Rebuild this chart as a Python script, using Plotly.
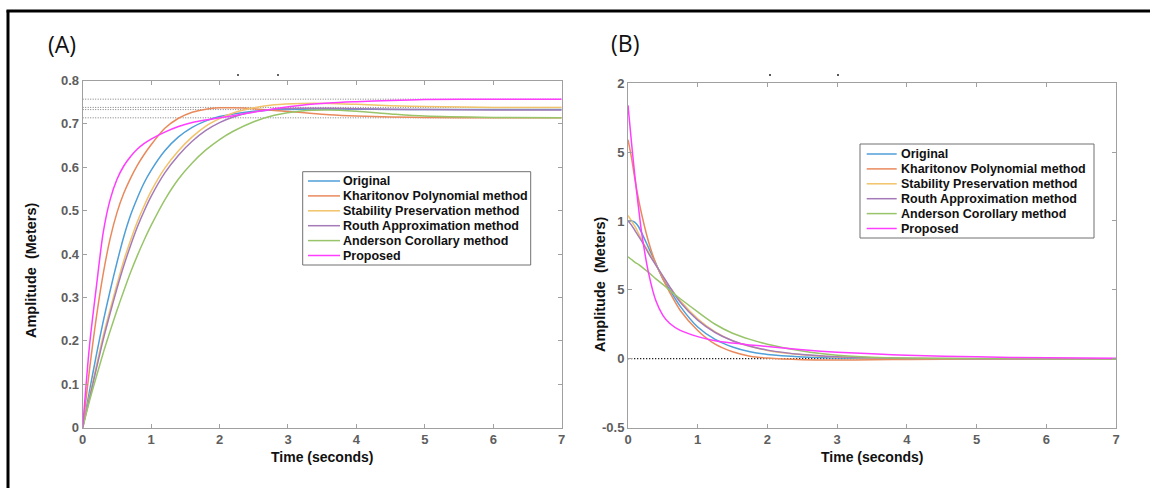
import plotly.graph_objects as go

# ---------------- data ----------------
names = ["Original", "Kharitonov Polynomial method", "Stability Preservation method",
         "Routh Approximation method", "Anderson Corollary method", "Proposed"]
colors = ["#4f9fd8", "#e98a5c", "#f2c36a", "#a47bb8", "#98c46a", "#ff3dff"]

# Panel A: step response
t_a = [0, 0.1, 0.2, 0.3, 0.4, 0.5, 0.6, 0.7, 0.8, 0.9, 1.0, 1.2, 1.4, 1.6, 1.8, 2.0, 2.2, 2.5, 2.8, 3.2, 3.6, 4.0, 4.5, 5.0, 6.0, 7.0]
a_original = [0, 0.085, 0.168, 0.245, 0.315, 0.38, 0.44, 0.49, 0.53, 0.565, 0.593, 0.638, 0.67, 0.692, 0.707, 0.717, 0.723, 0.729, 0.732, 0.734, 0.734, 0.734, 0.733, 0.733, 0.733, 0.733]
a_kharitonov = [0, 0.135, 0.255, 0.355, 0.435, 0.495, 0.54, 0.575, 0.605, 0.63, 0.652, 0.69, 0.713, 0.727, 0.734, 0.737, 0.737, 0.735, 0.731, 0.726, 0.721, 0.718, 0.716, 0.715, 0.714, 0.714]
a_stability = [0, 0.072, 0.143, 0.212, 0.272, 0.33, 0.385, 0.432, 0.475, 0.512, 0.545, 0.598, 0.638, 0.67, 0.695, 0.712, 0.725, 0.737, 0.744, 0.747, 0.747, 0.745, 0.742, 0.740, 0.738, 0.738]
a_routh = [0, 0.068, 0.136, 0.203, 0.263, 0.32, 0.373, 0.42, 0.463, 0.50, 0.533, 0.587, 0.628, 0.66, 0.685, 0.703, 0.716, 0.728, 0.734, 0.736, 0.736, 0.735, 0.734, 0.733, 0.732, 0.732]
a_anderson = [0, 0.062, 0.118, 0.172, 0.222, 0.27, 0.315, 0.358, 0.397, 0.433, 0.466, 0.525, 0.573, 0.61, 0.64, 0.664, 0.683, 0.705, 0.72, 0.73, 0.732, 0.729, 0.723, 0.718, 0.715, 0.714]
a_proposed = [0, 0.19, 0.325, 0.45, 0.525, 0.572, 0.603, 0.625, 0.642, 0.655, 0.665, 0.681, 0.694, 0.703, 0.709, 0.714, 0.719, 0.727, 0.735, 0.743, 0.748, 0.751, 0.754, 0.756, 0.757, 0.757]
a_steady = [0.757, 0.738, 0.733, 0.714]

# Panel B: impulse response
t_b = [0, 0.05, 0.1, 0.15, 0.2, 0.3, 0.4, 0.5, 0.6, 0.75, 1.0, 1.25, 1.5, 1.75, 2.0, 2.5, 3.0, 3.5, 4.0, 5.0, 6.0, 7.0]
b_original = [1.0, 1.0, 0.99, 0.96, 0.91, 0.80, 0.69, 0.58, 0.50, 0.38, 0.23, 0.14, 0.085, 0.05, 0.03, 0.012, 0.004, 0.001, 0, 0, 0, 0]
b_kharitonov = [1.59, 1.46, 1.30, 1.16, 1.04, 0.84, 0.69, 0.58, 0.48, 0.35, 0.205, 0.105, 0.05, 0.018, 0.004, -0.008, -0.01, -0.008, -0.006, -0.003, -0.001, 0]
b_stability = [1.04, 1.0, 0.96, 0.91, 0.86, 0.77, 0.68, 0.60, 0.52, 0.42, 0.29, 0.195, 0.13, 0.09, 0.06, 0.028, 0.012, 0.005, 0.002, 0, 0, 0]
b_routh = [1.0, 0.97, 0.93, 0.89, 0.85, 0.76, 0.68, 0.60, 0.52, 0.41, 0.28, 0.19, 0.13, 0.09, 0.062, 0.03, 0.014, 0.006, 0.002, 0, 0, 0]
b_anderson = [0.74, 0.72, 0.70, 0.685, 0.665, 0.625, 0.58, 0.54, 0.495, 0.435, 0.34, 0.25, 0.185, 0.14, 0.105, 0.055, 0.025, 0.01, 0.004, 0.001, 0, 0]
b_proposed = [1.84, 1.57, 1.32, 1.10, 0.90, 0.61, 0.42, 0.315, 0.255, 0.205, 0.16, 0.13, 0.113, 0.10, 0.088, 0.065, 0.047, 0.035, 0.025, 0.013, 0.006, 0.003]

b_tickvals = [2, 1.5, 1, 0.5, 0, -0.5]
b_ticktext = ["2", "5", "1", "5", "0", "-0.5"]
a_tickvals = [0, 0.1, 0.2, 0.3, 0.4, 0.5, 0.6, 0.7, 0.8]
x_tickvals = [0, 1, 2, 3, 4, 5, 6, 7]

W, H = 1150, 488
def px(x):
    return x / W
def py(y):
    return 1 - y / H

FONT = "Liberation Sans, Arial, sans-serif"

fig = go.Figure()

series_a = [a_original, a_kharitonov, a_stability, a_routh, a_anderson, a_proposed]
series_b = [b_original, b_kharitonov, b_stability, b_routh, b_anderson, b_proposed]

# steady-state dotted guides (A)
for v in a_steady:
    fig.add_trace(go.Scatter(x=[0, 7], y=[v, v], mode="lines", xaxis="x", yaxis="y",
                             line=dict(color="#7a7a7a", width=1, dash="1px,1.5px"),
                             showlegend=False, hoverinfo="skip"))
# zero dotted guide (B)
fig.add_trace(go.Scatter(x=[0, 7], y=[0, 0], mode="lines", xaxis="x2", yaxis="y2",
                         line=dict(color="#222222", width=1.3, dash="1.3px,1.7px"),
                         showlegend=False, hoverinfo="skip"))

for n, c, s in zip(names, colors, series_a):
    fig.add_trace(go.Scatter(x=t_a, y=s, mode="lines", name=n, showlegend=False,
                             line=dict(color=c, width=1.5, shape="spline", smoothing=0.8),
                             xaxis="x", yaxis="y"))
for n, c, s in zip(names, colors, series_b):
    fig.add_trace(go.Scatter(x=t_b, y=s, mode="lines", name=n, showlegend=False,
                             line=dict(color=c, width=1.5, shape="spline", smoothing=0.8),
                             xaxis="x2", yaxis="y2"))

axis_common = dict(showline=True, linecolor="#a0a0a0", linewidth=1, mirror="ticks",
                   ticks="inside", ticklen=4, tickcolor="#a0a0a0", showgrid=False, zeroline=False,
                   automargin=False,
                   tickfont=dict(family=FONT, size=13, color="#5e5e5e", weight="bold"))

fig.update_layout(
    width=W, height=H, margin=dict(l=0, r=0, t=0, b=0),
    paper_bgcolor="white", plot_bgcolor="white", showlegend=False,
    xaxis=dict(domain=[px(82.7), px(561.7)], range=[0, 7], tickvals=x_tickvals, anchor="y", **axis_common),
    yaxis=dict(domain=[py(427.7), py(80.5)], range=[0, 0.8], tickvals=a_tickvals, anchor="x", **axis_common),
    xaxis2=dict(domain=[px(628), px(1116)], range=[0, 7], tickvals=x_tickvals, anchor="y2", **axis_common),
    yaxis2=dict(domain=[py(427.5), py(83.3)], range=[-0.5, 2], tickvals=b_tickvals, ticktext=b_ticktext,
                anchor="x2", **axis_common),
)

# axis titles
title_font = dict(family=FONT, size=14, color="#111111", weight="bold")
ytitle = "Amplitude\u00a0\u00a0(Meters)"
fig.add_annotation(text="Time (seconds)", x=px(322), y=py(457), xref="paper", yref="paper",
                   showarrow=False, xanchor="center", yanchor="middle", font=title_font)
fig.add_annotation(text="Time (seconds)", x=px(872), y=py(457), xref="paper", yref="paper",
                   showarrow=False, xanchor="center", yanchor="middle", font=title_font)
fig.add_annotation(text=ytitle, x=px(31), y=py(270), xref="paper", yref="paper", textangle=-90,
                   showarrow=False, xanchor="center", yanchor="middle", font=dict(title_font, size=14.5))
fig.add_annotation(text=ytitle, x=px(600), y=py(284), xref="paper", yref="paper", textangle=-90,
                   showarrow=False, xanchor="center", yanchor="middle", font=dict(title_font, size=14.5))

# legends (box + line samples + labels) built from names/colors
leg_font = dict(family=FONT, size=12.5, color="#111111", weight="bold")
legends = [
    dict(box=(302.7, 171.7, 530.7, 265), line=(308, 340), text_x=342, row0=181, dy=14.9),
    dict(box=(860, 144, 1094, 238), line=(866.7, 896.7), text_x=900, row0=154, dy=14.9),
]
for L in legends:
    x0, y0, x1, y1 = L["box"]
    fig.add_shape(type="rect", xref="paper", yref="paper", x0=px(x0), x1=px(x1), y0=py(y1), y1=py(y0),
                  line=dict(color="#707070", width=1), fillcolor="white", layer="above")
    for i, (n, c) in enumerate(zip(names, colors)):
        yy = L["row0"] + i * L["dy"]
        fig.add_shape(type="line", xref="paper", yref="paper", x0=px(L["line"][0]), x1=px(L["line"][1]),
                      y0=py(yy), y1=py(yy), line=dict(color=c, width=1.5), layer="above")
        fig.add_annotation(text=n, x=px(L["text_x"]), y=py(yy), xref="paper", yref="paper",
                           showarrow=False, xanchor="left", yanchor="middle", font=leg_font,
                           borderpad=0)

# panel labels
fig.add_annotation(text="(A)", x=px(46), y=py(44), xref="paper", yref="paper", showarrow=False,
                   xanchor="left", yanchor="middle", font=dict(family="Open Sans, Noto Sans", size=23, color="#111111"))
fig.add_annotation(text="(B)", x=px(609), y=py(43), xref="paper", yref="paper", showarrow=False,
                   xanchor="left", yanchor="middle", font=dict(family="Open Sans, Noto Sans", size=23, color="#111111"))

# tiny stray marks above the plots (present in the source image)
for (dx, dy, col) in [(238, 75, "#333"), (278, 75, "#333"), (770, 75, "#222"), (838, 75, "#222")]:
    fig.add_shape(type="circle", xref="paper", yref="paper", x0=px(dx - 1), x1=px(dx + 1),
                  y0=py(dy + 1), y1=py(dy - 1), line=dict(width=0), fillcolor=col)

# outer frame: left and top edges
fig.add_shape(type="line", xref="paper", yref="paper", x0=px(8), x1=px(8), y0=0, y1=py(10.5),
              line=dict(color="black", width=3), layer="above")
fig.add_shape(type="line", xref="paper", yref="paper", x0=px(6.5), x1=1, y0=py(11), y1=py(11),
              line=dict(color="black", width=3), layer="above")

fig.write_html("out.html", config={"displayModeBar": False},
               post_script="document.body.style.margin='0';document.body.style.overflow='hidden';")
